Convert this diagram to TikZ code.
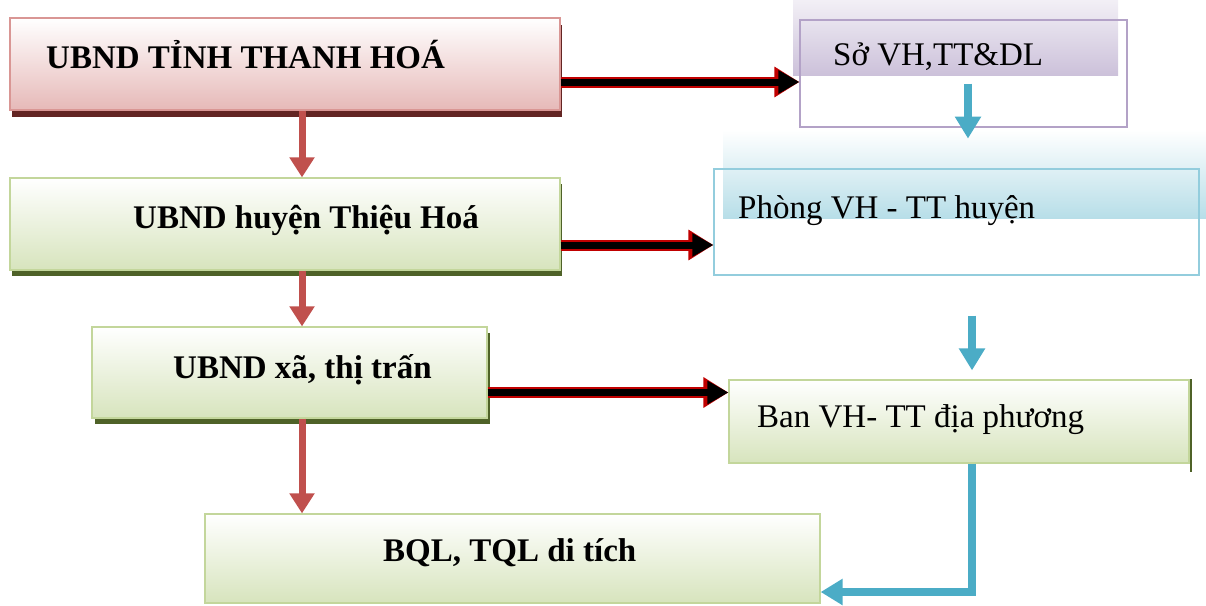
\documentclass[tikz,border=0pt]{standalone}
\usepackage{fontspec}
\setmainfont{Liberation Serif}
\usetikzlibrary{arrows.meta,shadows}

\definecolor{pinkbot}{HTML}{E6B9B8}
\definecolor{pinkline}{HTML}{D99694}
\definecolor{redshadow}{HTML}{632523}
\definecolor{greenbot}{HTML}{D7E4BD}
\definecolor{greenline}{HTML}{C3D69B}
\definecolor{greenshadow}{HTML}{4F6228}
\definecolor{purplebot}{HTML}{CCC1DA}
\definecolor{purpleline}{HTML}{B3A2C7}
\definecolor{bluebot}{HTML}{B7DEE8}
\definecolor{blueline}{HTML}{93CDDD}
\definecolor{redarrow}{HTML}{C0504D}
\definecolor{bluearrow}{HTML}{4BACC6}
\definecolor{outlinered}{HTML}{C00000}

\tikzset{
  pinkbox/.style={draw=pinkline, line width=1.2pt, top color=white, bottom color=pinkbot,
    general shadow={fill=redshadow, shadow xshift=1.5pt, shadow yshift=-7pt}},
  greenbox/.style={draw=greenline, line width=1.2pt, top color=white, bottom color=greenbot},
  greenshade/.style={general shadow={fill=greenshadow, shadow xshift=#1, shadow yshift=-6pt}},
  purplebox/.style={draw=purpleline, line width=1.2pt},
  bluebox/.style={draw=blueline, line width=1.2pt},
  boldtxt/.style={font=\fontsize{33}{40}\selectfont\bfseries, inner sep=0pt, anchor=base west},
  plaintxt/.style={font=\fontsize{33}{40}\selectfont, inner sep=0pt, anchor=base west},
  downarrow/.style={draw=redarrow, line width=7pt, -{Triangle[length=20pt,width=24pt]}},
  cyanarrow/.style={draw=bluearrow, line width=8pt, -{Triangle[length=22pt,width=25pt]}},
  bigarrow/.style={draw=black, line width=7pt, -{Triangle[length=21pt,width=22pt]},
    preaction={draw=outlinered, line width=11pt, -{Triangle[length=25pt,width=29pt]}}}
}

\begin{document}
\begin{tikzpicture}[x=1pt,y=-1pt]
    \useasboundingbox (0,0) rectangle (1206,605);

    \shade[top color=purplebot!25, bottom color=purplebot] (793,0) rectangle (1118,75);
    \shade[top color=white, bottom color=bluebot] (723,130) rectangle (1206,218);

    \node[pinkbox, minimum width=550pt, minimum height=92pt] (tinh) at (285,64) {};
    \node[greenbox, greenshade=1.5pt, minimum width=550pt, minimum height=92pt] (huyen) at (285,224) {};
    \node[greenbox, greenshade=3pt, minimum width=395pt, minimum height=91pt] (xa) at (289.5,372.5) {};
    \node[greenbox, minimum width=615pt, minimum height=89pt] (bql) at (512.5,558.5) {};
    \node[purplebox, minimum width=327pt, minimum height=107pt] (so) at (963.5,73.5) {};
    \node[bluebox, minimum width=485pt, minimum height=106pt] (phong) at (956.5,222) {};
    \node[greenbox, minimum width=460pt, minimum height=83pt] (ban) at (959,421.5) {};
    \draw[greenshadow, line width=2pt] ([xshift=1pt]ban.north east) -- ([xshift=1pt,yshift=-8pt]ban.south east);

    \node[boldtxt] (tinhtxt) at (46,68) {UBND TỈNH THANH HOÁ};
    \node[boldtxt] (huyentxt) at (133,228) {UBND huyện Thiệu Hoá};
    \node[boldtxt] (xatxt) at (173,378) {UBND xã, thị trấn};
    \node[boldtxt] (bqltxt) at (383,561) {BQL, TQL di tích};
    \node[plaintxt] (sotxt) at (833,65) {Sở VH,TT\&DL};
    \node[plaintxt] (phongtxt) at (738,218) {Phòng VH - TT huyện};
    \node[plaintxt] (bantxt) at (757,427) {Ban VH- TT địa phương};

    \draw[bigarrow] ([yshift=-18pt]tinh.east) -- ([yshift=-18pt]tinh.east -| so.west);
    \draw[bigarrow] ([yshift=-21pt]huyen.east) -- ([yshift=-21pt]huyen.east -| phong.west);
    \draw[bigarrow] ([yshift=-20pt]xa.east) -- ([yshift=-20pt]xa.east -| ban.west);

    \draw[downarrow] ([xshift=17pt]tinh.south) -- ([xshift=17pt]tinh.south |- huyen.north);
    \draw[downarrow] ([xshift=17pt]huyen.south) -- ([xshift=17pt]huyen.south |- xa.north);
    \draw[downarrow] ([xshift=12.5pt]xa.south) -- ([xshift=12.5pt]xa.south |- bql.north);

    \draw[cyanarrow] ([xshift=4.5pt,yshift=-10pt]so.center) -- ([xshift=4.5pt,yshift=-11pt]so.south);
    \draw[cyanarrow] ([xshift=15.5pt,yshift=-40pt]phong.south) -- ([xshift=13pt,yshift=9pt]ban.north);
    \draw[cyanarrow] ([xshift=13pt]ban.south) |- ([yshift=-33.5pt]bql.east);
\end{tikzpicture}
\end{document}
